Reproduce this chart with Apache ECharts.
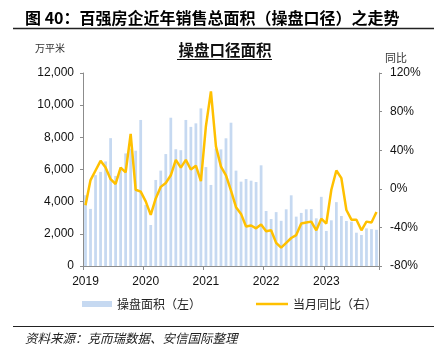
<!DOCTYPE html>
<html>
<head>
<meta charset="utf-8">
<script src="https://cdn.jsdelivr.net/npm/echarts@6/dist/echarts.min.js"></script>
<style>
html,body{margin:0;padding:0;background:#fff;}
#chart{width:434px;height:351px;}
</style>
</head>
<body>
<div id="chart"></div>
<script>
// ---- data ----
const yearLabels = ['2019', '2020', '2021', '2022', '2023'];
const monthsInLastYear = 11;
const categories = [];
yearLabels.forEach(function (y, i) {
  const n = i === yearLabels.length - 1 ? monthsInLastYear : 12;
  for (let m = 1; m <= n; m++) categories.push(y + '-' + (m < 10 ? '0' + m : m));
});
// 操盘面积（万平米）
const areaValues = [
  4400, 3550, 5650, 5850, 6500, 7950, 5600, 6130, 7000, 7300, 7170, 9080,
  3800, 2550, 5350, 5930, 6960, 9220, 7260, 7200, 9080, 8650, 8870, 9800,
  6150, 5040, 7300, 7250, 7940, 8910, 5930, 5245, 5410, 5305, 5220, 6260,
  3420, 2920, 3350, 2810, 3525, 4395, 3070, 3300, 3525, 3540, 2965, 4300,
  2180, 2840, 3970, 3110, 2800, 2760, 2070, 1930, 2340, 2290, 2250
];
// 当月同比（%）
const yoyValues = [
  -17, 9, 19, 29, 22, 10, 5, 22, 17, 57, -1, -3,
  -13, -27, -10, 2, 6, 14, 30, 22, 30, 20, 24, 8,
  65, 101, 44, 23, 14, -2, -19, -26, -39, -38, -41, -37,
  -44, -43, -56, -61, -56, -51, -48, -36, -35, -34, -43, -31,
  -36, -1, 19, 11, -22, -32, -32, -43, -34, -35, -24
];
const seriesNames = ['操盘面积（左）', '当月同比（右）'];

const cjk = '"Noto Sans CJK SC", "Noto Sans", sans-serif';
const latin = '"Liberation Sans", Arial, sans-serif';

const chart = echarts.init(document.getElementById('chart'), null, { renderer: 'canvas' });
chart.setOption({
  animation: false,
  backgroundColor: '#ffffff',
  grid: { left: 83, right: 55, top: 73, bottom: 85, containLabel: false },
  graphic: [
    { type: 'text', x: 25, y: 18, style: { text: '图 40：百强房企近年销售总面积（操盘口径）之走势', font: 'bold 16px ' + cjk, fill: '#000', verticalAlign: 'middle', align: 'left' } },
    { type: 'line', shape: { x1: 13, y1: 28.5, x2: 434, y2: 28.5 }, style: { stroke: '#222', lineWidth: 1.5 } },
    { type: 'text', x: 35, y: 48, style: { text: '万平米', font: '10px ' + cjk, fill: '#333', verticalAlign: 'middle', align: 'left' } },
    { type: 'text', x: 225, y: 50, style: { text: '操盘口径面积', font: 'bold 15.5px ' + cjk, fill: '#111', verticalAlign: 'middle', align: 'center' } },
    { type: 'line', shape: { x1: 177, y1: 59.5, x2: 272, y2: 59.5 }, style: { stroke: '#111', lineWidth: 1 } },
    { type: 'text', x: 396, y: 58, style: { text: '同比', font: '11px ' + cjk, fill: '#333', verticalAlign: 'middle', align: 'center' } },
    { type: 'line', shape: { x1: 13, y1: 326.5, x2: 434, y2: 326.5 }, style: { stroke: '#222', lineWidth: 1.2 } },
    { type: 'text', x: 25, y: 338, style: { text: '资料来源：克而瑞数据、安信国际整理', font: 'italic 12.5px ' + cjk, fill: '#222', verticalAlign: 'middle', align: 'left' } }
  ],
  legend: [
    {
      left: 77, top: 293,
      itemWidth: 30, itemHeight: 6,
      textStyle: { fontFamily: cjk, fontSize: 12, color: '#222' },
      data: [{ name: seriesNames[0], icon: 'rect' }]
    },
    {
      left: 251, top: 293,
      itemWidth: 32, itemHeight: 2.5,
      textStyle: { fontFamily: cjk, fontSize: 12, color: '#222' },
      data: [{ name: seriesNames[1], icon: 'rect' }]
    }
  ],
  xAxis: {
    type: 'category',
    data: categories,
    boundaryGap: true,
    axisLine: { lineStyle: { color: '#8c8c8c', width: 1 } },
    axisTick: { show: true, length: 4, lineStyle: { color: '#8c8c8c' }, interval: function (i) { return i % 12 === 0; } },
    axisLabel: {
      interval: function (i) { return i % 12 === 0; },
      formatter: function (v) { return v.slice(0, 4); },
      margin: 10, fontFamily: latin, fontSize: 12, color: '#111'
    },
    splitLine: { show: false }
  },
  yAxis: [
    {
      type: 'value', min: 0, max: 12000, interval: 2000, position: 'left',
      axisLine: { show: true, lineStyle: { color: '#8c8c8c' } },
      axisTick: { show: true, length: 3, lineStyle: { color: '#8c8c8c' } },
      axisLabel: { margin: 9, fontFamily: latin, fontSize: 12, color: '#111', formatter: function (v) { return v.toLocaleString('en-US'); } },
      splitLine: { show: false }
    },
    {
      type: 'value', min: -80, max: 120, interval: 40, position: 'right',
      axisLine: { show: true, lineStyle: { color: '#8c8c8c' } },
      axisTick: { show: true, length: 3, lineStyle: { color: '#8c8c8c' } },
      axisLabel: { margin: 11, fontFamily: latin, fontSize: 12, color: '#111', formatter: '{value}%' },
      splitLine: { show: false }
    }
  ],
  series: [
    {
      name: seriesNames[0], type: 'bar', yAxisIndex: 0,
      data: areaValues, barWidth: '55%',
      itemStyle: { color: '#c6d9f1' }
    },
    {
      name: seriesNames[1], type: 'line', yAxisIndex: 1,
      data: yoyValues, symbol: 'none', showSymbol: false, smooth: false,
      lineStyle: { color: '#ffc000', width: 2.5 },
      itemStyle: { color: '#ffc000' },
      z: 3
    }
  ]
});
</script>
</body>
</html>
